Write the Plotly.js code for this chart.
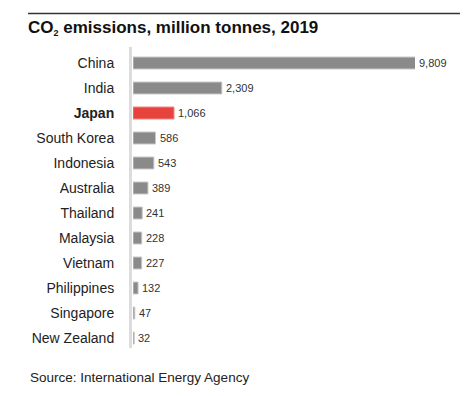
<!DOCTYPE html>
<html><head><meta charset="utf-8">
<script src="https://cdn.plot.ly/plotly-3.0.1.min.js"></script>
<style>html,body{margin:0;padding:0;background:#fff}#chart{width:476px;height:396px}</style>
</head><body><div id="chart"></div>
<script>
const countries = ["China","India","Japan","South Korea","Indonesia","Australia","Thailand","Malaysia","Vietnam","Philippines","Singapore","New Zealand"];
const emissions = [9809,2309,1066,586,543,389,241,228,227,132,47,32];
const valueLabels = ["9,809","2,309","1,066","586","543","389","241","228","227","132","47","32"];
const highlight = "Japan";

const xMax = 7330;
const F = '"Liberation Sans", Arial, Helvetica, sans-serif';
const colors = countries.map(c => c === highlight ? '#e8423c' : '#8a8a8a');
const edge = countries.map(c => c === highlight ? '#f08a86' : '#c9c9c9');
const tickText = countries.map(c => c === highlight ? '<b>' + c + '</b>' : c);

const trace = {
  type: 'bar', orientation: 'h',
  y: countries, x: emissions,
  width: 0.48,
  marker: {color: colors, line: {color: edge, width: 1}},
  hoverinfo: 'skip'
};

const annotations = countries.map((c, i) => ({
  xref: 'x', yref: 'y', x: Math.min(emissions[i], xMax), y: c,
  text: valueLabels[i], showarrow: false, xanchor: 'left', yanchor: 'middle',
  xshift: 2, font: {family: F, size: 11, color: '#333'}
}));
annotations.push({
  xref: 'paper', yref: 'paper', x: (28 - 133) / 282, y: (348 - 377) / 301,
  text: 'Source: International Energy Agency', showarrow: false,
  xanchor: 'left', yanchor: 'middle', font: {family: F, size: 13.5, color: '#222'}
});

const layout = {
  width: 476, height: 396,
  margin: {l: 133, r: 61, t: 47, b: 48},
  paper_bgcolor: '#fff', plot_bgcolor: '#fff',
  showlegend: false,
  title: {
    text: 'CO<sub><span style="font-size:9px">2</span></sub> emissions, million tonnes, 2019',
    x: 28 / 476, xref: 'container', xanchor: 'left',
    y: 1 - 21 / 396, yref: 'container', yanchor: 'top',
    font: {family: F, size: 17, color: '#111', weight: 'bold'}
  },
  xaxis: {range: [0, xMax], visible: false, fixedrange: true},
  yaxis: {
    type: 'category', categoryorder: 'array', categoryarray: countries,
    range: [11.4, -0.64], tickvals: countries, ticktext: tickText,
    ticks: 'outside', ticklen: 15, tickcolor: 'rgba(0,0,0,0)',
    showline: false, showgrid: false, zeroline: false,
    tickfont: {family: F, size: 14, color: '#222'}, fixedrange: true
  },
  shapes: [
    {type: 'line', xref: 'paper', yref: 'paper', x0: -2.5 / 282, x1: -2.5 / 282, y0: 0, y1: 1,
     line: {color: '#dcdcdc', width: 3}, layer: 'below'},
    {type: 'line', xref: 'paper', yref: 'paper', x0: (28 - 133) / 282, x1: (460 - 133) / 282,
     y0: (348 - 13.5) / 301, y1: (348 - 13.5) / 301, line: {color: '#333', width: 1.5}}
  ],
  annotations: annotations
};

Plotly.newPlot('chart', [trace], layout, {displayModeBar: false, staticPlot: true});
</script></body></html>
